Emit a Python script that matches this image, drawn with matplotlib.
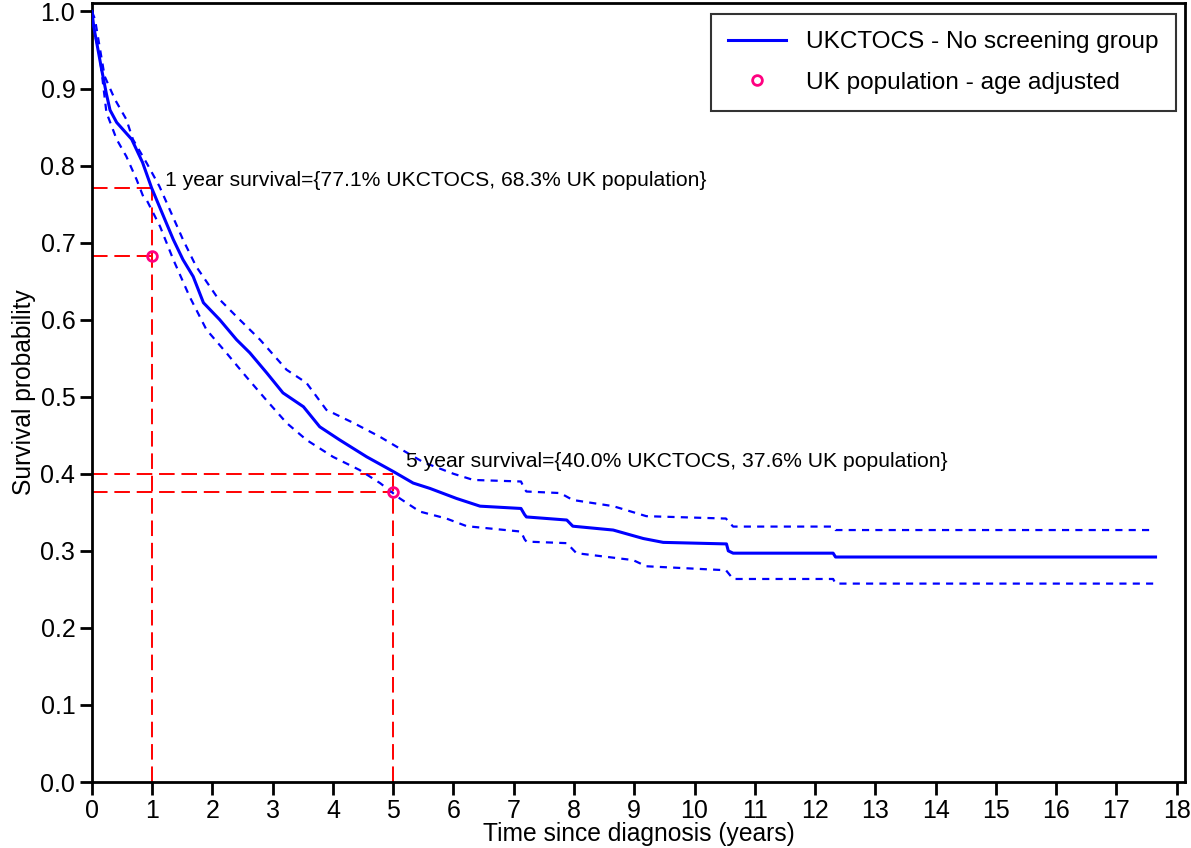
import matplotlib.pyplot as plt

plt.rcParams['font.family'] = ['Liberation Sans', 'DejaVu Sans']

# Kaplan-Meier estimate, no screening group (years, survival)
km_t = [0, 0.03, 0.078, 0.16, 0.24, 0.30, 0.41, 0.66, 0.84, 0.99, 1.21, 1.35, 1.51,
        1.68, 1.85, 2.12, 2.40, 2.62, 2.90, 3.17, 3.51, 3.78, 4.11, 4.56, 5.0,
        5.33, 5.61, 6.05, 6.44, 7.12, 7.18, 7.21, 7.88, 7.98, 8.65, 9.15, 9.48,
        10.53, 10.56, 10.64, 12.30, 12.34, 17.65]
km_s = [1.0, 0.98, 0.96, 0.925, 0.893, 0.872, 0.856, 0.834, 0.804, 0.771, 0.730, 0.704, 0.678,
        0.656, 0.622, 0.600, 0.574, 0.557, 0.531, 0.505, 0.487, 0.461, 0.444, 0.422, 0.403,
        0.388, 0.381, 0.368, 0.358, 0.355, 0.347, 0.344, 0.340, 0.332, 0.327, 0.316, 0.311,
        0.309, 0.300, 0.297, 0.297, 0.292, 0.292]

# 95% confidence band
ci_up_t = [0, 0.05, 0.21, 0.38, 0.57, 0.68, 0.91, 1.12, 1.29, 1.51, 1.73, 2.07, 2.40, 2.79,
           3.23, 3.56, 3.89, 4.34, 4.78, 5.06, 5.5, 6.0, 6.33, 7.12, 7.18, 7.21, 7.77,
           7.98, 8.65, 9.2, 10.48, 10.52, 10.64, 12.30, 12.34, 17.62]
ci_up_s = [1.0, 0.99, 0.916, 0.886, 0.860, 0.834, 0.803, 0.773, 0.743, 0.704, 0.669, 0.630,
           0.604, 0.574, 0.535, 0.518, 0.483, 0.466, 0.448, 0.435, 0.415, 0.400, 0.392, 0.390,
           0.380, 0.377, 0.375, 0.366, 0.358, 0.345, 0.342, 0.342, 0.3315, 0.3315, 0.327, 0.327]
ci_lo_t = [0, 0.05, 0.13, 0.24, 0.41, 0.57, 0.74, 0.85, 0.91, 1.13, 1.35, 1.62, 1.90, 2.23,
           2.56, 2.89, 3.23, 3.56, 4.0, 4.44, 4.78, 5.11, 5.44, 5.88, 6.22, 7.12, 7.18,
           7.21, 7.88, 8.04, 8.98, 9.2, 10.48, 10.52, 10.64, 12.30, 12.34, 17.62]
ci_lo_s = [1.0, 0.97, 0.942, 0.869, 0.834, 0.812, 0.782, 0.760, 0.755, 0.721, 0.678, 0.630,
           0.587, 0.557, 0.526, 0.496, 0.466, 0.444, 0.422, 0.405, 0.388, 0.368, 0.351, 0.342,
           0.332, 0.325, 0.315, 0.312, 0.310, 0.297, 0.288, 0.280, 0.275, 0.275, 0.2635,
           0.2635, 0.2575, 0.2575]

# survival at 1 and 5 years
mark_years = [1, 5]
ukctocs_surv = [0.771, 0.400]
ukpop_surv = [0.683, 0.376]
notes = ['1 year survival={77.1% UKCTOCS, 68.3% UK population}',
         '5 year survival={40.0% UKCTOCS, 37.6% UK population}']

fig = plt.figure(figsize=(11.91, 8.48), dpi=100)
ax = fig.add_axes([0.0772, 0.0778, 0.9178, 0.9187])

red_dash = dict(color='red', lw=1.4, dashes=(8, 3.5))
for yr, s_k, s_p in zip(mark_years, ukctocs_surv, ukpop_surv):
    ax.plot([0, yr], [s_k, s_k], **red_dash)
    ax.plot([0, yr], [s_p, s_p], **red_dash)
    ax.plot([yr, yr], [0, s_k], **red_dash)

ax.plot(km_t, km_s, color='blue', lw=2.2, label='UKCTOCS - No screening group', zorder=3)
ax.plot(ci_up_t, ci_up_s, color='blue', lw=1.6, dashes=(3.2, 2.8), zorder=3)
ax.plot(ci_lo_t, ci_lo_s, color='blue', lw=1.6, dashes=(3.2, 2.8), zorder=3)

ax.plot(mark_years, ukpop_surv, 'o', ms=7, mfc='none', mec='#ff0080', mew=2,
        label='UK population - age adjusted', zorder=4)

ax.text(1.21, 0.781, notes[0], fontsize=15.2, va='center', ha='left')
ax.text(5.22, 0.416, notes[1], fontsize=15.2, va='center', ha='left')

ax.set_xlim(0, 18.14)
ax.set_ylim(0, 1.011)
ax.set_xticks(range(0, 19))
ax.set_yticks([i / 10 for i in range(11)])
ax.set_yticklabels(['%.1f' % (i / 10) for i in range(11)])
ax.tick_params(direction='out', length=9, width=2, labelsize=18, pad=3)
ax.tick_params(top=False, right=False)
for sp in ax.spines.values():
    sp.set_linewidth(2)

ax.set_xlabel('Time since diagnosis (years)', fontsize=17.7)
ax.xaxis.set_label_coords(0.5, -0.051)
ax.set_ylabel('Survival probability', fontsize=17.7, labelpad=3)

leg = ax.legend(loc='upper right', fontsize=17.6, frameon=True, fancybox=False,
                edgecolor='black', handlelength=2.35, borderpad=0.7, labelspacing=0.75,
                handletextpad=0.85, borderaxespad=0, bbox_to_anchor=(0.9918, 0.986))
leg.get_frame().set_linewidth(1.5)

fig.savefig('out.png', dpi=100)
